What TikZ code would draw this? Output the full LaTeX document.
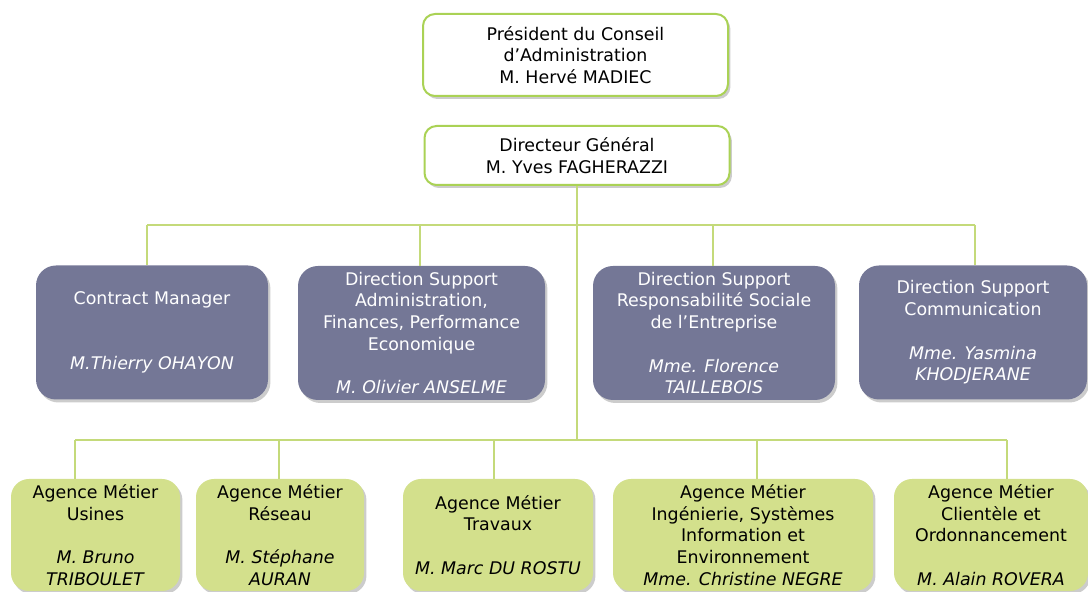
\documentclass[tikz,border=0pt]{standalone}
\usepackage{fontspec}
\setmainfont{DejaVu Sans}
\usetikzlibrary{shadows}
\definecolor{slate}{RGB}{116,119,150}
\definecolor{agencygreen}{RGB}{211,224,140}
\definecolor{headgreen}{RGB}{170,210,85}
\definecolor{linkgreen}{RGB}{196,218,122}
\def\topbus{225}
\def\lowbus{440}
\def\blank{10.85pt}
\def\twoblank{21.7pt}

\begin{document}
\begin{tikzpicture}[x=0.5pt,y=-0.5pt,font=\fontsize{8.7}{10.85}\selectfont]
      \tikzstyle{box}=[align=center,inner sep=0pt,
                       drop shadow={shadow xshift=1.2pt,shadow yshift=-1.5pt,opacity=0.4}]
      \tikzstyle{head box}=[box,rounded corners=6pt,draw=headgreen,line width=1pt,fill=white,text=black]
      \tikzstyle{support box}=[box,rounded corners=10pt,fill=slate,text=white,minimum height=67pt]
      \tikzstyle{agency box}=[box,rounded corners=9pt,fill=agencygreen,text=black,minimum height=56pt]
      \tikzstyle{link}=[draw=linkgreen,line width=0.9pt]

      \useasboundingbox (0,0) rectangle (1088,592);

      % Draw the top management boxes
      \node[head box,minimum width=152.5pt,minimum height=41pt] (pres) at (575.5,55)
          {Président du Conseil\\d’Administration\\M. Hervé MADIEC};
      \node[head box,minimum width=152.5pt,minimum height=29.5pt] (dg) at (577,155.5)
          {Directeur Général\\M. Yves FAGHERAZZI};

      % Draw the support directions
      \node[support box,minimum width=116pt] (cm) at (152,332.5)
          {Contract Manager\\[\twoblank]\textit{M.Thierry OHAYON}};
      \node[support box,minimum width=123.5pt] (af) at (421.5,333)
          {Direction Support\\Administration,\\Finances, Performance\\Economique\\[\blank]\textit{M. Olivier ANSELME}};
      \node[support box,minimum width=121pt] (rse) at (714,333)
          {Direction Support\\Responsabilité Sociale\\de l’Entreprise\\[\blank]\textit{Mme. Florence}\\\textit{TAILLEBOIS}};
      \node[support box,minimum width=114pt] (comm) at (973,332.5)
          {Direction Support\\Communication\\[\blank]\textit{Mme. Yasmina}\\\textit{KHODJERANE}};

      % Draw the agencies
      \node[agency box,minimum width=84.5pt] (usines) at (95.5,535)
          {Agence Métier\\Usines\\[\blank]\textit{M. Bruno}\\\textit{TRIBOULET}};
      \node[agency box,minimum width=84pt] (reseau) at (280,535)
          {Agence Métier\\Réseau\\[\blank]\textit{M. Stéphane}\\\textit{AURAN}};
      \node[agency box,minimum width=95pt] (travaux) at (498,535)
          {Agence Métier\\Travaux\\[\blank]\textit{M. Marc DU ROSTU}};
      \node[agency box,minimum width=130pt] (inge) at (743,535)
          {Agence Métier\\Ingénierie, Systèmes\\Information et\\Environnement\\\textit{Mme. Christine NEGRE}};
      \node[agency box,minimum width=97pt] (client) at (991,535)
          {Agence Métier\\Clientèle et\\Ordonnancement\\[\blank]\textit{M. Alain ROVERA}};

      % Taps on the two buses
      \coordinate (trunk) at (dg.south |- 0,\lowbus);
      \foreach \name/\x in {cm/147,af/420,rse/713,comm/975}
          \coordinate (top-\name) at (\x,\topbus);
      \foreach \name/\x in {usines/75,reseau/279,travaux/494,inge/757,client/1007}
          \coordinate (low-\name) at (\x,\lowbus);

      % Connect the general director to both buses
      \path[link] (dg.south) -- (trunk);
      \path[link] (top-cm) -- (top-comm);
      \path[link] (low-usines) -- (low-client);

      % Drop from the buses to every box
      \foreach \name in {cm,af,rse,comm}
          \path[link] (top-\name) -- (top-\name |- \name.north);
      \foreach \name in {usines,reseau,travaux,inge,client}
          \path[link] (low-\name) -- (low-\name |- \name.north);
  \end{tikzpicture}
\end{document}
